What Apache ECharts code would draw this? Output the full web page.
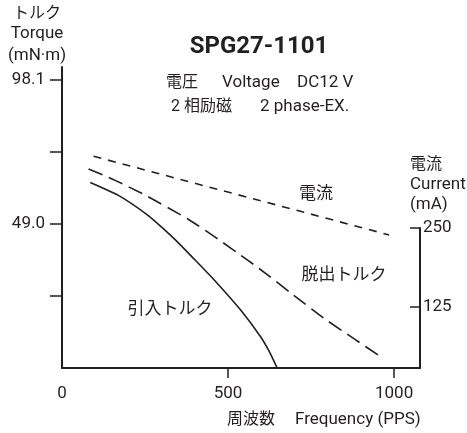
<!DOCTYPE html>
<html>
<head>
<meta charset="utf-8">
<script src="https://cdn.jsdelivr.net/npm/echarts@6.0.0/dist/echarts.min.js"></script>
<style>
    html, body { margin: 0; padding: 0; background: #fff; }
    #chart { width: 467px; height: 433px; }
</style>
</head>
<body>
<div id="chart"></div>
<script>
// 周波数 (PPS) ごとの特性値
const pullOutTorque = [[80, 67.7], [160, 63.8], [250, 58.8], [380, 50.6], [460, 44.6], [560, 36.6], [620, 31.6], [690, 25.4], [790, 16.8], [880, 9.9], [965, 3.4]];
const pullInTorque = [[85, 63.1], [170, 58.7], [257, 52.1], [300, 47.9], [352, 42.4], [400, 36.8], [457, 30.1], [538, 19.7], [598, 10.6], [625, 5.4], [648, 0]];
const current = [[95, 364], [400, 321], [700, 279], [985, 239]];

const freqTicks = [500, 1000];
const freqLabels = [0, 500, 1000];
const torqueTicks = [24.525, 49.05, 73.575, 98.1];
const torqueLabels = [49.05, 98.1];
const currentTicks = [125, 250];

const ink = '#231f20';
const latin = "'Roboto', 'Noto Sans CJK JP', sans-serif";

function label(text, x, y, size, align, weight) {
    return {
        type: 'text',
        x: x,
        y: y,
        style: {
            text: text,
            fill: ink,
            font: (weight || 'normal') + ' ' + size + 'px ' + latin,
            align: align || 'left',
            verticalAlign: 'middle'
        }
    };
}

const chart = echarts.init(document.getElementById('chart'));
const option = {
    animation: false,
    grid: [
        { left: 62, right: 47, top: 67, bottom: 65 },
        { left: 62, right: 47, top: 228, bottom: 65 }
    ],
    xAxis: [
        {
            gridIndex: 0,
            type: 'value',
            min: 0,
            max: 1078,
            splitLine: { show: false },
            axisLine: { onZero: false, lineStyle: { color: ink, width: 2 } },
            axisTick: { customValues: freqTicks, length: 10, lineStyle: { color: ink, width: 1.5 } },
            axisLabel: {
                customValues: freqLabels,
                margin: 17,
                color: ink,
                fontSize: 17,
                fontFamily: latin,
                formatter: v => String(v)
            }
        },
        { gridIndex: 1, type: 'value', min: 0, max: 1078, show: false }
    ],
    yAxis: [
        {
            gridIndex: 0,
            type: 'value',
            min: 0,
            max: 102.35,
            position: 'left',
            splitLine: { show: false },
            axisLine: { show: true, onZero: false, lineStyle: { color: ink, width: 2 } },
            axisTick: { show: true, customValues: torqueTicks, length: 12, lineStyle: { color: ink, width: 1.5 } },
            axisLabel: {
                customValues: torqueLabels,
                margin: 17,
                color: ink,
                fontSize: 17,
                fontFamily: latin,
                formatter: v => v.toFixed(1)
            }
        },
        // 電流用 (非表示、右軸と同じ目盛り)
        { gridIndex: 0, type: 'value', min: 27.7, max: 505.7, show: false },
        {
            gridIndex: 1,
            type: 'value',
            min: 27.7,
            max: 250,
            position: 'right',
            splitLine: { show: false },
            axisLine: { show: true, onZero: false, lineStyle: { color: ink, width: 2 } },
            axisTick: { show: true, inside: true, customValues: currentTicks, length: 10, lineStyle: { color: ink, width: 1.5 } },
            axisLabel: {
                customValues: currentTicks,
                margin: 3,
                color: ink,
                fontSize: 17,
                fontFamily: latin
            }
        }
    ],
    series: [
        {
            name: '電流',
            type: 'line',
            xAxisIndex: 0,
            yAxisIndex: 1,
            data: current,
            showSymbol: false,
            silent: true,
            lineStyle: { color: ink, width: 1.6, type: [8, 7] }
        },
        {
            name: '脱出トルク',
            type: 'line',
            xAxisIndex: 0,
            yAxisIndex: 0,
            data: pullOutTorque,
            smooth: 0.2,
            showSymbol: false,
            silent: true,
            lineStyle: { color: ink, width: 1.6, type: [15, 7] }
        },
        {
            name: '引入トルク',
            type: 'line',
            xAxisIndex: 0,
            yAxisIndex: 0,
            data: pullInTorque,
            smooth: 0.2,
            showSymbol: false,
            silent: true,
            lineStyle: { color: ink, width: 1.6 }
        }
    ],
    graphic: [
        label('SPG27-1101', 259, 47, 24, 'center', 'bold'),
        label('電圧', 166, 83, 16),
        label('Voltage', 222, 83, 17),
        label('DC12 V', 297, 83, 17),
        label('2 相励磁', 171, 107, 16),
        label('2 phase-EX.', 260, 107, 17),
        // 軸の名前
        label('トルク', 37, 14, 16, 'center'),
        label('Torque', 37, 34, 17, 'center'),
        label('(mN·m)', 37, 56, 17, 'center'),
        label('電流', 410, 165, 16),
        label('Current', 410, 185, 17),
        label('(mA)', 410, 205, 17),
        label('周波数', 227, 420, 16),
        label('Frequency (PPS)', 295, 420, 17),
        // 曲線の名前
        label('電流', 316, 195, 17, 'center'),
        label('脱出トルク', 344, 276, 17, 'center'),
        label('引入トルク', 170, 310, 17, 'center')
    ]
};
chart.setOption(option);
</script>
</body>
</html>
